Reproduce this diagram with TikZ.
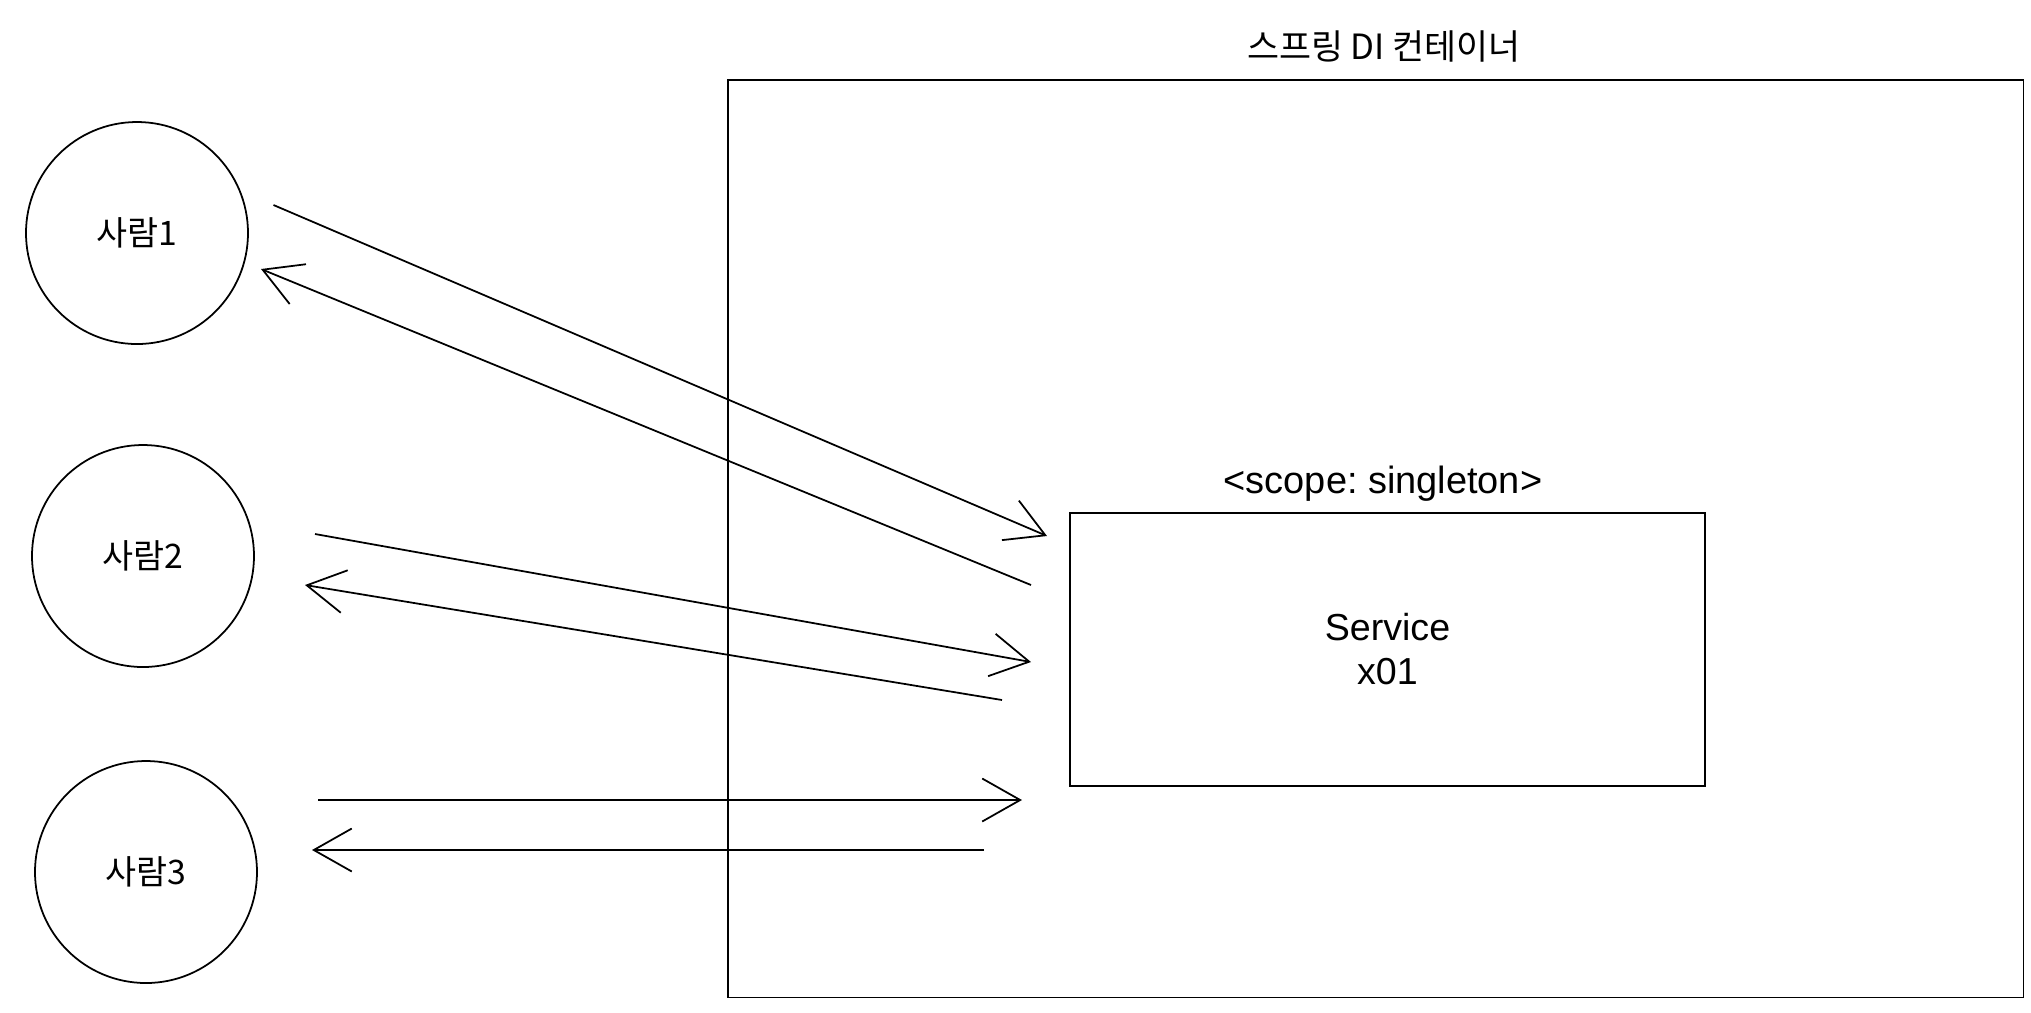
\documentclass[tikz,border=0pt]{standalone}
\usepackage{fontspec}
\setmainfont{Liberation Sans}
\newfontfamily\kr{Noto Sans CJK KR}
\usepackage{tikz}
\usetikzlibrary{arrows.meta}
\frenchspacing
\tikzstyle{person}=[circle,draw,minimum size=2.22cm,inner sep=0pt,font=\kr\fontsize{9.6}{11}\selectfont]
\tikzstyle{bean}=[rectangle,draw,minimum width=6.35cm,minimum height=2.73cm,align=center,font=\fontsize{10.7}{12.5}\selectfont]

\begin{document}
\begin{tikzpicture}[line width=0.5pt,>={Straight Barb[length=3.8mm,width=4.3mm]}]
\useasboundingbox (0,0) rectangle (20.31,-10.12);
% container
\draw (7.28,-0.80) rectangle (20.235,-9.975);
\node[font=\kr\fontsize{9.9}{11}\selectfont] at (13.84, -0.46) (title) {스프링 DI 컨테이너};
\node[bean] at (13.875, -6.495) (svc) {Service\\x01};
\node[font=\fontsize{10.8}{12.5}\selectfont] at (13.83, -4.84) (scope) {<scope: singleton>};
% clients
\node[person] at (1.37, -2.33) (p1) {사람1};
\node[person] at (1.43, -5.56) (p2) {사람2};
\node[person] at (1.46, -8.72) (p3) {사람3};
% arrow ends
\coordinate (p1out) at (2.735, -2.05);
\coordinate (svcin1) at (10.47, -5.36);
\coordinate (svcout1) at (10.31, -5.85);
\coordinate (p1in) at (2.61, -2.69);
\coordinate (p2out) at (3.15, -5.34);
\coordinate (svcin2) at (10.31, -6.62);
\coordinate (svcout2) at (10.02, -7.00);
\coordinate (p2in) at (3.05, -5.85);
\coordinate (p3out) at (3.18, -8.00);
\coordinate (svcin3) at (10.22, -8.00);
\coordinate (svcout3) at (9.84, -8.50);
\coordinate (p3in) at (3.12, -8.50);
\draw[->] (p1out) -- (svcin1);
\draw[->] (svcout1) -- (p1in);
\draw[->] (p2out) -- (svcin2);
\draw[->] (svcout2) -- (p2in);
\draw[->] (p3out) -- (svcin3);
\draw[->] (svcout3) -- (p3in);
\end{tikzpicture}
\end{document}
